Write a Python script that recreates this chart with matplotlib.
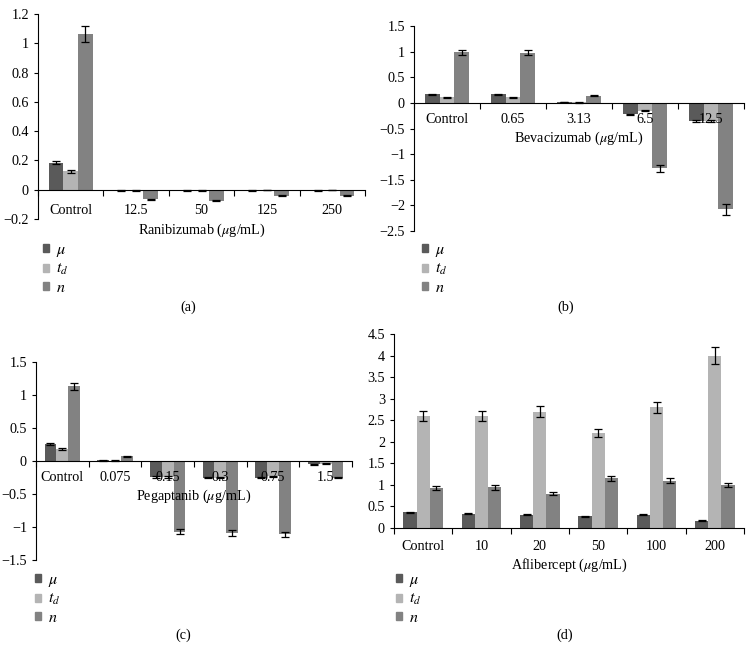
import numpy as np
import matplotlib
matplotlib.use('Agg')
import matplotlib.pyplot as plt
from matplotlib.patches import Patch
from matplotlib.ticker import FuncFormatter, FixedLocator

plt.rcParams['font.family'] = ['Liberation Serif', 'DejaVu Serif']
plt.rcParams['mathtext.fontset'] = 'stix'
plt.rcParams['font.size'] = 10

# --- data ---
ran_cats = ['Control', '12.5', '50', '125', '250']
ran_mu = [0.185, -0.006, -0.006, -0.004, -0.004]
ran_td = [0.125, -0.005, -0.005, -0.003, -0.003]
ran_n = [1.065, -0.065, -0.075, -0.04, -0.04]
ran_mu_err = [0.01, 0.003, 0.003, 0.002, 0.002]
ran_td_err = [0.008, 0.003, 0.003, 0.002, 0.002]
ran_n_err = [0.055, 0.005, 0.005, 0.004, 0.004]

bev_cats = ['Control', '0.65', '3.13', '6.5', '12.5']
bev_mu = [0.17, 0.17, 0.02, -0.22, -0.36]
bev_td = [0.11, 0.11, 0.01, -0.15, -0.36]
bev_n = [0.99, 0.98, 0.14, -1.28, -2.08]
bev_mu_err = [0.01, 0.01, 0.005, 0.01, 0.02]
bev_td_err = [0.01, 0.01, 0.005, 0.01, 0.02]
bev_n_err = [0.05, 0.05, 0.01, 0.06, 0.1]

peg_cats = ['Control', '0.075', '0.15', '0.3', '0.75', '1.5']
peg_mu = [0.26, 0.01, -0.24, -0.25, -0.25, -0.05]
peg_td = [0.18, 0.005, -0.24, -0.25, -0.23, -0.04]
peg_n = [1.13, 0.07, -1.07, -1.09, -1.11, -0.25]
peg_mu_err = [0.015, 0.003, 0.01, 0.01, 0.01, 0.005]
peg_td_err = [0.01, 0.003, 0.01, 0.01, 0.01, 0.005]
peg_n_err = [0.05, 0.005, 0.04, 0.04, 0.04, 0.01]

afl_cats = ['Control', '10', '20', '50', '100', '200']
afl_mu = [0.36, 0.33, 0.31, 0.27, 0.31, 0.17]
afl_td = [2.6, 2.6, 2.7, 2.2, 2.8, 4.0]
afl_n = [0.92, 0.94, 0.80, 1.15, 1.10, 1.00]
afl_mu_err = [0.02, 0.015, 0.015, 0.015, 0.015, 0.01]
afl_td_err = [0.12, 0.12, 0.12, 0.1, 0.13, 0.2]
afl_n_err = [0.05, 0.05, 0.04, 0.06, 0.05, 0.05]

colors = ['#5a5a5a', '#b4b4b4', '#828282']
labels = ['$\\mu$', '$t_d$', '$n$']
FS = 10.2

fig = plt.figure(figsize=(7.53, 6.51), dpi=100)


def fmt(v, pos):
    return ('%g' % round(v, 2)).replace('-', '\u2212')


def panel(rect, cats, series, errs, ylim, ystep, xlabel, xpad, legend_xy, tag, tag_xy):
    ax = fig.add_axes(rect)
    ax.set_axisbelow(False)
    x = np.arange(len(cats))
    w = 0.225
    for i, (vals, err) in enumerate(zip(series, errs)):
        ax.bar(x + (i - 1) * w, vals, w, color=colors[i], zorder=1)
        ax.errorbar(x + (i - 1) * w, vals, yerr=err, fmt='none', ecolor='black',
                    elinewidth=0.9, capsize=3, capthick=0.9, zorder=1.5)
    ax.set_xlim(-0.5, len(cats) - 0.5)
    ax.set_ylim(*ylim)
    ax.set_yticks(np.arange(ylim[0], ylim[1] + ystep / 2, ystep))
    ax.yaxis.set_major_formatter(FuncFormatter(fmt))
    ax.set_xticks(x)
    ax.set_xticklabels(cats)
    ax.xaxis.set_minor_locator(FixedLocator(np.arange(-0.5, len(cats), 1.0)))
    ax.tick_params(axis='x', which='major', length=0, pad=xpad, labelsize=FS)
    ax.tick_params(axis='x', which='minor', length=4, direction='out', width=0.8)
    ax.tick_params(axis='y', length=3, direction='out', width=0.8, labelsize=FS)
    for s in ['top', 'right']:
        ax.spines[s].set_visible(False)
    ax.spines['bottom'].set_position(('data', 0))
    ax.spines['left'].set_linewidth(0.8)
    ax.spines['bottom'].set_linewidth(0.8)
    ax.set_xlabel(xlabel, fontsize=FS, labelpad=3)
    handles = [Patch(color=c) for c in colors]
    ax.legend(handles, labels, loc='upper left', bbox_to_anchor=legend_xy,
              bbox_transform=fig.transFigure, frameon=False, handlelength=0.38,
              handleheight=0.38, handletextpad=0.45, labelspacing=0.15, fontsize=11.5,
              borderaxespad=0, borderpad=0)
    fig.text(tag_xy[0] / 753, 1 - tag_xy[1] / 651, tag, ha='center', va='center', fontsize=FS)
    return ax


panel([38 / 753, 1 - 219 / 651, 327 / 753, 205 / 651], ran_cats,
      [ran_mu, ran_td, ran_n], [ran_mu_err, ran_td_err, ran_n_err],
      (-0.2, 1.2), 0.2, 'Ranibizumab ($\\mu$g/mL)', 10.5, (43 / 753, 1 - 242 / 651),
      '(a)', (188, 307))

panel([414 / 753, 1 - 231 / 651, 330 / 753, 205 / 651], bev_cats,
      [bev_mu, bev_td, bev_n], [bev_mu_err, bev_td_err, bev_n_err],
      (-2.5, 1.5), 0.5, 'Bevacizumab ($\\mu$g/mL)', 7, (422 / 753, 1 - 242 / 651),
      '(b)', (566, 307))

panel([36 / 753, 1 - 560 / 651, 316 / 753, 198 / 651], peg_cats,
      [peg_mu, peg_td, peg_n], [peg_mu_err, peg_td_err, peg_n_err],
      (-1.5, 1.5), 0.5, 'Pegaptanib ($\\mu$g/mL)', 7, (35 / 753, 1 - 572 / 651),
      '(c)', (183, 635))

panel([394 / 753, 1 - 528 / 651, 350 / 753, 194 / 651], afl_cats,
      [afl_mu, afl_td, afl_n], [afl_mu_err, afl_td_err, afl_n_err],
      (0, 4.5), 0.5, 'Aflibercept ($\\mu$g/mL)', 8.5, (396 / 753, 1 - 572 / 651),
      '(d)', (565, 635))

fig.savefig('out.png', dpi=100)
